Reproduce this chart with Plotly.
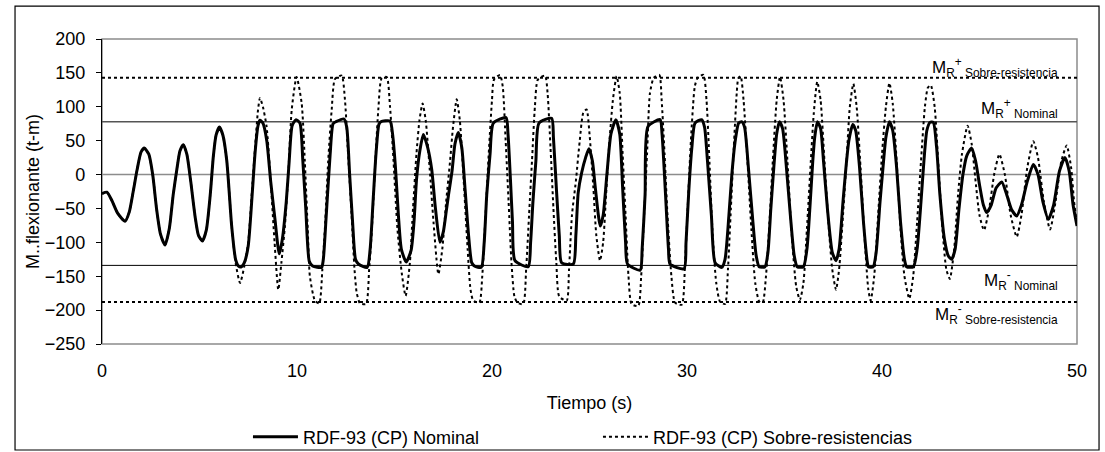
import plotly.graph_objects as go

# ---- data ----
t_nominal = [0.0, 0.25, 0.5, 0.8, 1.18, 1.4, 1.6, 1.8, 2.0, 2.17, 2.4, 2.6, 2.8, 3.0, 3.23, 3.45, 3.65, 3.86, 4.0, 4.17,
             4.35, 4.55, 4.77, 4.95, 5.15, 5.35, 5.55, 5.71, 5.85, 6.02, 6.2, 6.4, 6.65, 6.85, 7.0, 7.15, 7.3, 7.5, 7.7, 7.85,
             8.0, 8.1, 8.25, 8.45, 8.65, 8.87, 9.09, 9.25, 9.45, 9.6, 9.75, 9.95, 10.15, 10.3, 10.45, 10.63, 10.8, 11.26, 11.35, 11.5,
             11.7, 11.85, 12.0, 12.41, 12.55, 12.7, 12.85, 13.0, 13.15, 13.6, 13.75, 13.9, 14.05, 14.2, 14.3, 14.77, 14.9, 15.05, 15.2, 15.35,
             15.6, 15.85, 16.0, 16.13, 16.3, 16.48, 16.7, 16.91, 17.1, 17.33, 17.5, 17.65, 17.76, 17.95, 18.1, 18.27, 18.45, 18.62, 18.8, 18.96,
             19.1, 19.45, 19.6, 19.73, 19.9, 20.07, 20.72, 20.82, 20.95, 21.05, 21.18, 21.86, 21.98, 22.1, 22.25, 22.41, 23.06, 23.15, 23.3, 23.45,
             23.57, 24.17, 24.3, 24.42, 24.6, 24.8, 24.97, 25.15, 25.3, 25.55, 25.7, 25.9, 26.1, 26.35, 26.55, 26.7, 26.85, 26.95, 27.6, 27.7,
             27.85, 28.0, 28.62, 28.72, 28.9, 29.05, 29.13, 29.85, 29.95, 30.1, 30.25, 30.41, 30.75, 30.9, 31.05, 31.25, 31.44, 31.78, 31.95, 32.15,
             32.3, 32.46, 32.65, 32.8, 32.95, 33.15, 33.35, 33.55, 33.7, 34.0, 34.15, 34.3, 34.45, 34.6, 34.74, 34.9, 35.1, 35.3, 35.5, 35.65,
             35.97, 36.15, 36.3, 36.45, 36.55, 36.69, 36.85, 37.0, 37.2, 37.45, 37.64, 37.8, 38.0, 38.15, 38.3, 38.5, 38.65, 38.85, 39.05, 39.25,
             39.3, 39.55, 39.7, 39.9, 40.05, 40.2, 40.38, 40.55, 40.75, 40.95, 41.15, 41.26, 41.61, 41.8, 42.0, 42.15, 42.3, 42.46, 42.63, 42.8,
             42.97, 43.2, 43.4, 43.57, 43.75, 43.95, 44.15, 44.35, 44.6, 44.8, 45.0, 45.2, 45.37, 45.6, 45.85, 46.14, 46.4, 46.65, 46.91, 47.15,
             47.45, 47.76, 48.0, 48.25, 48.53, 48.8, 49.1, 49.38, 49.6, 49.8, 50.0]
m_nominal = [-28, -26, -38, -57, -69, -55, -25, 7, 33, 39, 30, 0, -51, -88, -104, -80, -30, 12, 35, 44,
             30, -10, -61, -90, -98, -82, -30, 27, 58, 70, 58, 20, -76, -125, -135, -136, -130, -105, -30, 32,
             72, 80, 76, 50, -10, -66, -117, -95, -40, 20, 72, 81, 76, 20, -50, -128, -135, -137, -125, -60,
             30, 75, 78, 82, 70, 0, -70, -125, -132, -137, -110, -40, 30, 74, 78, 79, 60, 10, -60, -110,
             -129, -112, -70, -7, 35, 59, 40, 7, -50, -100, -85, -55, -32, 5, 45, 62, 40, -22, -90, -130,
             -135, -137, -100, -30, 30, 76, 84, 60, -10, -70, -127, -136, -100, -40, 20, 76, 83, 55, -20, -90,
             -130, -132, -90, -27, 3, 25, 38, 20, -20, -76, -60, 3, 60, 81, 60, -20, -100, -132, -141, -110,
             -30, 71, 81, 60, -30, -110, -132, -139, -100, -20, 40, 76, 81, 70, 20, -60, -130, -137, -125, -60,
             0, 47, 76, 78, 70, 10, -60, -120, -136, -136, -115, -50, 10, 60, 78, 68, 10, -60, -120, -136,
             -136, -110, -50, 20, 55, 78, 68, 20, -50, -115, -127, -110, -40, 10, 50, 74, 65, 10, -70, -130,
             -136, -136, -115, -40, 10, 55, 78, 65, 10, -70, -125, -136, -136, -110, -40, 20, 65, 77, 77, 40,
             -30, -95, -120, -125, -110, -50, 0, 28, 39, 20, -15, -45, -56, -45, -20, -11, -30, -52, -61, -45,
             -10, 15, 0, -40, -66, -45, 5, 25, 5, -45, -76]

t_sobre = [0.0, 0.25, 0.5, 0.8, 1.18, 1.4, 1.6, 1.8, 2.0, 2.17, 2.4, 2.6, 2.8, 3.0, 3.23, 3.45, 3.65, 3.86, 4.0, 4.17,
           4.35, 4.55, 4.77, 4.95, 5.15, 5.35, 5.55, 5.71, 5.85, 6.02, 6.2, 6.4, 6.65, 6.85, 7.08, 7.3, 7.5, 7.7, 7.85, 8.0,
           8.1, 8.25, 8.44, 8.65, 8.85, 9.04, 9.2, 9.38, 9.55, 9.73, 9.98, 10.24, 10.4, 10.55, 10.66, 10.92, 11.14, 11.3, 11.43, 11.6,
           11.78, 11.95, 12.29, 12.46, 12.6, 12.8, 12.95, 13.06, 13.23, 13.54, 13.7, 13.83, 14.0, 14.17, 14.34, 14.6, 14.77, 14.95, 15.15, 15.37,
           15.57, 15.79, 15.95, 16.13, 16.28, 16.44, 16.6, 16.8, 17.0, 17.25, 17.45, 17.65, 17.85, 18.0, 18.19, 18.35, 18.55, 18.75, 18.9, 19.04,
           19.35, 19.5, 19.65, 19.85, 20.0, 20.1, 20.41, 20.55, 20.7, 20.85, 21.0, 21.15, 21.3, 21.6, 21.75, 21.9, 22.05, 22.2, 22.35, 22.72,
           22.85, 23.0, 23.15, 23.3, 23.45, 23.83, 23.95, 24.1, 24.3, 24.5, 24.68, 24.85, 25.0, 25.2, 25.35, 25.54, 25.7, 25.85, 26.0, 26.2,
           26.39, 26.55, 26.7, 26.85, 27.0, 27.16, 27.5, 27.65, 27.8, 27.95, 28.1, 28.3, 28.58, 28.7, 28.85, 29.0, 29.2, 29.39, 29.73, 29.9,
           30.05, 30.2, 30.4, 30.55, 30.84, 31.0, 31.15, 31.3, 31.5, 31.7, 31.95, 32.1, 32.25, 32.4, 32.55, 32.63, 32.75, 32.9, 33.1, 33.3,
           33.5, 33.7, 33.88, 34.05, 34.25, 34.4, 34.6, 34.77, 34.95, 35.15, 35.35, 35.6, 35.79, 35.97, 36.15, 36.35, 36.5, 36.68, 36.85, 37.05,
           37.25, 37.45, 37.64, 37.8, 38.0, 38.2, 38.35, 38.53, 38.7, 38.9, 39.1, 39.3, 39.42, 39.6, 39.8, 40.0, 40.2, 40.38, 40.55, 40.75,
           40.95, 41.15, 41.4, 41.6, 41.8, 42.0, 42.2, 42.35, 42.5, 42.7, 42.9, 43.1, 43.3, 43.48, 43.7, 43.9, 44.1, 44.39, 44.6, 44.8,
           45.0, 45.23, 45.5, 45.75, 46.02, 46.3, 46.6, 46.91, 47.15, 47.45, 47.76, 48.0, 48.3, 48.62, 48.9, 49.2, 49.47, 49.7, 49.85, 50.0]
m_sobre = [-28, -26, -38, -57, -69, -55, -25, 7, 33, 39, 30, 0, -51, -88, -104, -80, -30, 12, 35, 44,
           30, -10, -61, -90, -98, -82, -30, 27, 58, 70, 58, 20, -76, -130, -160, -135, -100, -20, 40, 95,
           113, 100, 71, -10, -100, -170, -130, -76, 0, 96, 144, 105, 20, -80, -150, -186, -190, -140, -80, 20,
           96, 141, 146, 110, 40, -60, -140, -174, -190, -191, -140, -86, 10, 96, 142, 144, 100, 20, -80, -145,
           -179, -130, -50, 32, 80, 105, 80, 10, -70, -147, -110, -40, 20, 70, 111, 80, -10, -110, -170, -186,
           -189, -150, -70, 40, 110, 140, 147, 130, 50, -40, -130, -180, -189, -191, -140, -60, 20, 100, 140, 146,
           120, 40, -50, -130, -180, -186, -140, -60, -10, 50, 91, 96, 60, -20, -90, -127, -100, -30, 40, 110,
           145, 120, 30, -60, -150, -191, -194, -150, -60, 30, 120, 143, 147, 110, 30, -60, -150, -189, -192, -130,
           -40, 50, 130, 143, 147, 110, 20, -80, -160, -188, -191, -140, -50, 40, 120, 142, 145, 110, 20, -80,
           -160, -187, -189, -150, -60, 20, 110, 144, 110, 20, -80, -165, -185, -160, -80, 20, 90, 137, 110, 20,
           -70, -140, -170, -140, -60, 30, 100, 134, 100, 10, -90, -170, -186, -150, -60, 30, 100, 135, 105, 20,
           -80, -150, -183, -150, -70, 20, 100, 128, 132, 100, 10, -80, -140, -154, -110, -30, 30, 72, 45, -10,
           -60, -82, -50, 0, 30, 0, -60, -92, -60, 10, 49, 25, -40, -81, -40, 20, 43, 10, -40, -74]

# resistance levels (t-m)
mr_pos_sobre = 143
mr_pos_nominal = 78
mr_neg_nominal = -134
mr_neg_sobre = -188

x_ticks = [0, 10, 20, 30, 40, 50]
y_ticks = [-250, -200, -150, -100, -50, 0, 50, 100, 150, 200]

FONT = "Arial, Liberation Sans, sans-serif"
FS = 18

fig = go.Figure()

fig.add_trace(go.Scatter(
    x=t_sobre, y=m_sobre, mode="lines", name="RDF-93 (CP) Sobre-resistencias",
    line=dict(color="black", width=2, dash="3px,3px", shape="spline", smoothing=0.6),
))
fig.add_trace(go.Scatter(
    x=t_nominal, y=m_nominal, mode="lines", name="RDF-93 (CP) Nominal",
    line=dict(color="black", width=3, shape="spline", smoothing=0.6),
))

# plot area border (gray)
fig.add_shape(type="rect", xref="paper", yref="paper", x0=0, x1=1, y0=0, y1=1,
              line=dict(color="#8c8c8c", width=1.5), layer="below")
# outer chart border
fig.add_shape(type="rect", xref="paper", yref="paper", x0=-0.0892, x1=1.0226, y0=-0.3475, y1=1.108,
              line=dict(color="black", width=1.2), layer="below")
# zero line
fig.add_shape(type="line", xref="paper", yref="y", x0=0, x1=1, y0=0, y1=0,
              line=dict(color="#8c8c8c", width=1.5), layer="below")
# resistance levels
fig.add_shape(type="line", xref="paper", yref="y", x0=0, x1=1, y0=mr_pos_nominal, y1=mr_pos_nominal,
              line=dict(color="#555555", width=1.5), layer="below")
fig.add_shape(type="line", xref="paper", yref="y", x0=0, x1=1, y0=mr_neg_nominal, y1=mr_neg_nominal,
              line=dict(color="black", width=1), layer="below")
fig.add_shape(type="line", xref="paper", yref="y", x0=0, x1=1, y0=mr_pos_sobre, y1=mr_pos_sobre,
              line=dict(color="black", width=2, dash="3px,3px"), layer="below")
fig.add_shape(type="line", xref="paper", yref="y", x0=0, x1=1, y0=mr_neg_sobre, y1=mr_neg_sobre,
              line=dict(color="black", width=2, dash="3px,3px"), layer="below")

labels = [
    (mr_pos_sobre, "M<sub>R</sub><sup>+</sup><sub> Sobre-resistencia</sub>", "bottom", -4),
    (mr_pos_nominal, "M<sub>R</sub><sup>+</sup><sub> Nominal</sub>", "bottom", -1),
    (mr_neg_nominal, "M<sub>R</sub><sup>-</sup><sub> Nominal</sub>", "top", -1),
    (mr_neg_sobre, "M<sub>R</sub><sup>-</sup><sub> Sobre-resistencia</sub>", "top", 2),
]
for yv, txt, anchor, shift in labels:
    fig.add_annotation(x=49.15, y=yv, xref="x", yref="y", text=txt, showarrow=False,
                       xanchor="right", yanchor=anchor, yshift=shift,
                       font=dict(family=FONT, size=17, color="black"))

fig.update_layout(
    width=1105, height=452,
    margin=dict(l=102, r=28, t=39, b=108),
    paper_bgcolor="white", plot_bgcolor="white",
    font=dict(family=FONT, size=FS, color="black"),
    showlegend=True,
    legend=dict(orientation="h", xref="container", yref="container", x=0.2244, y=0.0332,
                xanchor="left", yanchor="middle",
                traceorder="reversed", entrywidth=290, itemwidth=45,
                font=dict(size=FS, family=FONT), bgcolor="rgba(0,0,0,0)"),
    xaxis=dict(range=[0, 50], tickvals=x_ticks, showgrid=False, zeroline=False,
               showline=False, ticks="", ticklabelstandoff=14, automargin=False,
               tickfont=dict(size=FS),
               title=dict(text="Tiempo (s)", standoff=16, font=dict(size=FS))),
    yaxis=dict(range=[-250, 200], tickvals=y_ticks, showgrid=False, zeroline=False,
               showline=True, linecolor="black", linewidth=1.2, ticks="outside", ticklen=5,
               tickcolor="black", ticklabelstandoff=7, tickfont=dict(size=FS), automargin=False,
               title=dict(text="M..flexionante (t-m)", standoff=0, font=dict(size=FS))),
)

fig.write_html("out.html", post_script="document.body.style.margin='0px';",
               config={"displayModeBar": False})
